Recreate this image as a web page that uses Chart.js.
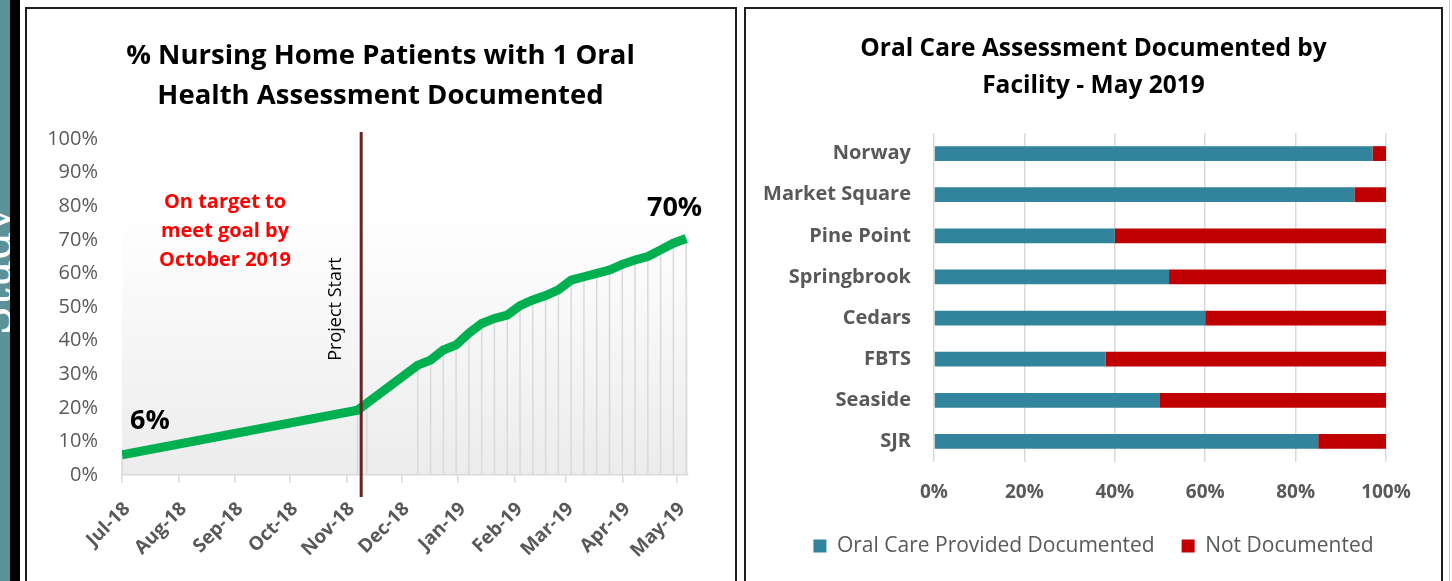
<!DOCTYPE html>
<html>
<head>
<meta charset="utf-8">
<script src="https://cdn.jsdelivr.net/npm/chart.js@4.4.1/dist/chart.umd.min.js"></script>
<style>
  html, body { margin: 0; padding: 0; background: #fff; overflow: hidden; }
  body { width: 1452px; height: 581px; position: relative; font-family: 'Open Sans', sans-serif; }
  #teal { position: absolute; left: 0; top: 0; width: 10px; height: 581px; background: #5b9199; }
  #blackbar { position: absolute; left: 10px; top: 0; width: 10px; height: 581px; background: #000; }
  #study { position: absolute; left: -26px; top: 336px; transform-origin: left top; transform: rotate(-90deg);
    font-family: 'DejaVu Serif', serif; font-size: 44px; line-height: 44px; color: #fff; white-space: nowrap; }
  .panel { position: absolute; top: 7px; height: 600px; border: 2px solid #1e1e1e; box-sizing: border-box; background: #fff; }
  #p1 { left: 25px; width: 712px; }
  #p2 { left: 744px; width: 699px; }
  #edge { position: absolute; left: 1449px; top: 0; width: 1px; height: 581px; background: #c8c8c8; }
  canvas { position: absolute; }
  #lineChart { left: 27px; top: 9px; }
  #barChart { left: 746px; top: 9px; }
</style>
</head>
<body>
<div id="teal"></div>
<div id="study">Study</div>
<div id="blackbar"></div>
<div class="panel" id="p1"></div>
<div class="panel" id="p2"></div>
<div id="edge"></div>
<canvas id="lineChart" width="707" height="572"></canvas>
<canvas id="barChart" width="695" height="572"></canvas>
<script>
// left chart: % patients with an oral health assessment
const tickDates = ['2018-07-01', '2018-08-01', '2018-09-01', '2018-10-01', '2018-11-01', '2018-12-01',
  '2019-01-01', '2019-02-01', '2019-03-01', '2019-04-01', '2019-05-01'];
const tickLabels = ['Jul-18', 'Aug-18', 'Sep-18', 'Oct-18', 'Nov-18', 'Dec-18',
  'Jan-19', 'Feb-19', 'Mar-19', 'Apr-19', 'May-19'];
const weekDates = ['2018-07-01', '2018-11-07', '2018-11-12',
  '2018-12-10', '2018-12-17', '2018-12-24', '2018-12-31',
  '2019-01-07', '2019-01-14', '2019-01-21', '2019-01-28',
  '2019-02-04', '2019-02-11', '2019-02-18', '2019-02-25',
  '2019-03-04', '2019-03-11', '2019-03-18', '2019-03-25',
  '2019-04-01', '2019-04-08', '2019-04-15', '2019-04-22', '2019-04-29', '2019-05-06'];
const pctAssessed = [6, 19.3, 21.3,
  32.7, 34.2, 37.2, 38.7,
  42.2, 45.1, 46.6, 47.6,
  50.4, 52.1, 53.4, 55.1,
  58, 59, 60, 61,
  62.7, 64, 65, 67, 69, 70.4];
const projectStart = '2018-11-09';

// right chart: documentation by facility, May 2019
const facilities = ['Norway', 'Market Square', 'Pine Point', 'Springbrook', 'Cedars', 'FBTS', 'Seaside', 'SJR'];
const documented = [97, 93, 40, 52, 60, 38, 50, 85];
const notDocumented = [3, 7, 60, 48, 40, 62, 50, 15];

Chart.defaults.font.family = "'Open Sans', sans-serif";

const day0 = Date.UTC(2018, 6, 1);
function dayOf(s) {
  const [y, m, d] = s.split('-').map(Number);
  return (Date.UTC(y, m - 1, d) - day0) / 864e5;
}

// empty axis on the right, only reserves room so title/legend stay centred on the panel
function spacerAxis(w) {
  return {
    position: 'right',
    display: true,
    ticks: { display: false },
    grid: { display: false, drawTicks: false },
    border: { display: false },
    afterFit: s => { s.width = w; }
  };
}

// soft grey gradient behind the plot
const plotBg = {
  id: 'plotBg',
  beforeDraw(chart) {
    const { ctx, chartArea: a } = chart;
    const g = ctx.createLinearGradient(0, a.top, 0, a.bottom);
    g.addColorStop(0, '#ffffff');
    g.addColorStop(0.22, '#ffffff');
    g.addColorStop(1, '#ececec');
    ctx.save();
    ctx.fillStyle = g;
    ctx.fillRect(a.left, a.top, a.width, a.height);
    ctx.restore();
  }
};

// Excel style drop lines
const dropLines = {
  id: 'dropLines',
  beforeDatasetsDraw(chart) {
    const { ctx, chartArea } = chart;
    ctx.save();
    ctx.strokeStyle = '#d9d9d9';
    ctx.lineWidth = 1.5;
    chart.getDatasetMeta(0).data.forEach(p => {
      ctx.beginPath();
      ctx.moveTo(p.x, p.y);
      ctx.lineTo(p.x, chartArea.bottom);
      ctx.stroke();
    });
    ctx.restore();
  }
};

// project start marker, target note and end labels
const notes = {
  id: 'notes',
  afterDatasetsDraw(chart) {
    const { ctx, chartArea: a } = chart;
    const x = chart.scales.x.getPixelForValue(dayOf(projectStart));
    ctx.save();
    ctx.strokeStyle = '#632523';
    ctx.lineWidth = 3;
    ctx.beginPath();
    ctx.moveTo(x, a.top - 7);
    ctx.lineTo(x, a.bottom + 22);
    ctx.stroke();

    ctx.translate(x - 25, a.top + 170);
    ctx.rotate(-Math.PI / 2);
    ctx.fillStyle = '#000';
    ctx.font = "18px 'Open Sans'";
    ctx.textAlign = 'center';
    ctx.textBaseline = 'middle';
    ctx.fillText('Project Start', 0, 0);
    ctx.restore();

    ctx.save();
    ctx.fillStyle = '#ff0000';
    ctx.font = "bold 20px 'Open Sans'";
    ctx.textAlign = 'center';
    ctx.textBaseline = 'middle';
    ['On target to', 'meet goal by', 'October 2019'].forEach((t, i) => {
      ctx.fillText(t, a.left + 103, a.top + 63 + i * 29);
    });

    const pts = chart.getDatasetMeta(0).data;
    const first = pts[0], last = pts[pts.length - 1];
    ctx.fillStyle = '#000';
    ctx.font = "bold 27px 'Open Sans'";
    ctx.textAlign = 'left';
    ctx.fillText(Math.round(pctAssessed[0]) + '%', first.x + 8, first.y - 34);
    ctx.textAlign = 'right';
    ctx.fillText(Math.round(pctAssessed[pctAssessed.length - 1]) + '%', last.x + 16, last.y - 30);
    ctx.restore();
  }
};

new Chart(document.getElementById('lineChart'), {
  type: 'line',
  data: {
    datasets: [{
      data: weekDates.map((d, i) => ({ x: dayOf(d), y: pctAssessed[i] })),
      borderColor: '#00b050',
      borderWidth: 9,
      pointRadius: 0,
      tension: 0,
      fill: false
    }]
  },
  options: {
    responsive: false,
    animation: false,
    layout: { padding: 0 },
    plugins: {
      legend: { display: false },
      tooltip: { enabled: false },
      title: {
        display: true,
        text: ['% Nursing Home Patients with 1 Oral', 'Health Assessment Documented'],
        color: '#000',
        font: { size: 27.5, weight: 'bold', lineHeight: 40 / 27.5 },
        padding: { top: 27, bottom: 23 }
      }
    },
    scales: {
      x: {
        type: 'linear',
        min: 0,
        max: dayOf('2019-05-07'),
        afterBuildTicks: s => { s.ticks = tickDates.map(d => ({ value: dayOf(d) })); },
        afterFit: s => { s.height = 106; },
        ticks: {
          autoSkip: false, minRotation: 45, maxRotation: 45, padding: 15, labelOffset: 5,
          color: '#595959', font: { size: 19, weight: 'bold' },
          callback: (v, i) => tickLabels[i]
        },
        grid: { drawOnChartArea: false, drawTicks: true, tickLength: 8, color: '#d9d9d9', lineWidth: 1.5 },
        border: { color: '#d9d9d9', width: 1.5 }
      },
      y: {
        min: 0,
        max: 100,
        afterFit: s => { s.width = 95; },
        ticks: { stepSize: 10, padding: 24, color: '#595959', font: { size: 20 }, callback: v => v + '%' },
        grid: { display: false, drawTicks: false },
        border: { display: false }
      },
      yPad: spacerAxis(46)
    }
  },
  plugins: [plotBg, dropLines, notes]
});

new Chart(document.getElementById('barChart'), {
  type: 'bar',
  data: {
    labels: facilities,
    datasets: [
      { label: 'Oral Care Provided Documented', data: documented, backgroundColor: '#31849b', barPercentage: 0.36, categoryPercentage: 1 },
      { label: 'Not Documented', data: notDocumented, backgroundColor: '#c00000', barPercentage: 0.36, categoryPercentage: 1 }
    ]
  },
  options: {
    indexAxis: 'y',
    responsive: false,
    animation: false,
    layout: { padding: { left: 0, right: 0, top: 0, bottom: 14.5 } },
    plugins: {
      tooltip: { enabled: false },
      title: {
        display: true,
        text: ['Oral Care Assessment Documented by', 'Facility - May 2019'],
        color: '#000',
        font: { size: 24.5, weight: 'bold', lineHeight: 37 / 24.5 },
        padding: { top: 21.5, bottom: 28.5 }
      },
      legend: {
        position: 'bottom',
        labels: { boxWidth: 13, boxHeight: 13, padding: 27, color: '#595959', font: { size: 21 } }
      }
    },
    scales: {
      x: {
        stacked: true,
        min: 0,
        max: 100,
        afterFit: s => { s.height = 46.5; },
        ticks: { stepSize: 20, padding: 19, color: '#595959', font: { size: 19, weight: 'bold' }, callback: v => v + '%' },
        grid: { color: '#d9d9d9', lineWidth: 1.5, drawTicks: false },
        border: { display: false }
      },
      y: {
        stacked: true,
        afterFit: s => { s.width = 188; },
        ticks: { padding: 23, color: '#595959', font: { size: 20, weight: 'bold' } },
        grid: { display: false, drawTicks: false },
        border: { display: false }
      },
      yPad: spacerAxis(55)
    }
  }
});
</script>
</body>
</html>
